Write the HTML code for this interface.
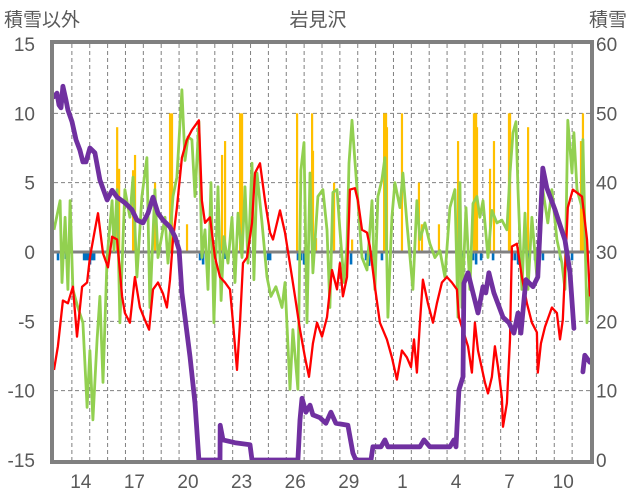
<!DOCTYPE html>
<html><head><meta charset="utf-8">
<style>
html,body{margin:0;padding:0;background:#fff;}
svg{display:block;font-family:"Liberation Sans","Noto Sans CJK JP",sans-serif;}
.cjk{font-family:"Noto Sans CJK JP","Liberation Sans",sans-serif;}
</style></head>
<body>
<svg id="chart" width="636" height="501" viewBox="0 0 636 501">
  <text class="cjk" x="4" y="26" font-size="19" fill="#595959">積雪以外</text>
  <text class="cjk" x="318" y="26" font-size="19" fill="#595959" text-anchor="middle">岩見沢</text>
  <text class="cjk" x="589" y="26" font-size="19" fill="#595959">積雪</text>
  <g id="grid"></g>
  <g id="bars"></g>
  <g id="lines"></g>
  <g id="axes"></g>
</svg>
<script>
const dayLabels = ["14","17","20","23","26","29","1","4","7","10"];
const leftTicks = [15,10,5,0,-5,-10,-15];
const rightTicks = [60,50,40,30,20,10,0];

const tempT = [0,.22,.5,.78,1.06,1.29,1.57,1.85,2.01,2.29,2.46,2.74,3.02,3.25,3.53,3.81,3.97,4.25,4.53,4.81,5.09,5.32,5.54,5.82,6.1,6.32,6.49,6.66,6.88,7.16,7.44,7.72,8.11,8.28,8.45,8.73,9.01,9.29,9.57,9.85,10.02,10.24,10.41,10.58,10.8,11.08,11.25,11.53,11.81,12.09,12.26,12.65,12.93,13.32,13.49,13.77,14.05,14.27,14.49,14.72,15,15.28,15.56,15.84,16,16.17,16.4,16.56,16.84,17.01,17.24,17.52,17.68,17.96,18.24,18.63,18.91,19.19,19.47,19.75,19.98,20.15,20.31,20.48,20.65,20.93,21.21,21.43,21.71,21.99,22.27,22.55,22.66,22.83,23.17,23.39,23.56,23.73,24.12,24.29,24.51,24.68,24.85,25.07,25.13,25.35,25.52,25.63,25.91,26.19,26.47,26.75,27.03,27.08,27.25,27.48,27.87,28.15,28.32,28.48,28.76,29.04,29.55,29.83,30];
const tempV = [-8.5,-6.8,-3.5,-3.7,-2.5,-6.1,-2.5,-2.2,-0.4,1.6,2.8,-0.1,-1.1,1.1,0.9,-3.2,-4.4,-5.1,-1.8,-4.0,-4.9,-5.6,-2.7,-2.2,-3.0,-4.0,-2.0,0.9,3.2,6.8,8.1,8.8,9.5,3.7,2.1,2.5,-0.4,-1.8,-2.2,-2.7,-5.1,-8.5,-5.1,-0.8,-0.4,2.1,5.7,6.4,3.7,1.4,0.9,3.0,1.4,-1.8,-3.2,-5.6,-7.6,-9.0,-6.6,-5.1,-6.1,-4.7,-1.3,-2.7,-0.8,-3.2,-1.8,4.5,4.6,3.7,1.6,1.4,0.4,-2.5,-5.1,-6.3,-7.6,-9.2,-7.1,-7.6,-8.3,-6.3,-8.7,-5.1,-2.0,-3.7,-5.1,-3.7,-2.2,-1.8,-2.2,-2.7,-4.7,-5.4,-6.8,-8.7,-5.1,-7.1,-9.4,-10.2,-9.0,-6.8,-8.3,-10.5,-12.6,-10.9,-6.3,0.4,0.6,-1.8,-3.7,-5.1,-5.8,-8.7,-6.6,-5.4,-4.0,-4.4,-6.3,-4.9,3.2,4.5,4.0,0.9,-3.2];

const greenT = [0,.34,.45,.62,.78,.9,1.06,1.34,1.62,1.85,2.01,2.18,2.41,2.57,2.74,2.97,3.25,3.36,3.53,3.69,3.97,4.25,4.42,4.64,4.92,5.2,5.37,5.65,5.82,6.21,6.38,6.66,6.88,7.05,7.16,7.33,7.5,7.72,7.89,8.11,8.28,8.45,8.62,8.79,8.95,9.18,9.35,9.51,9.74,9.96,10.13,10.3,10.52,10.69,10.86,11.08,11.19,11.36,11.64,11.92,12.14,12.42,12.76,12.93,13.21,13.37,13.65,13.82,13.99,14.16,14.33,14.49,14.77,15.05,15.28,15.44,15.61,15.84,16,16.23,16.4,16.51,16.68,16.84,17.01,17.24,17.52,17.8,17.96,18.13,18.35,18.52,18.69,18.91,19.08,19.36,19.53,19.75,20.09,20.31,20.48,20.76,21.04,21.32,21.6,21.88,22.16,22.44,22.61,22.72,22.83,23.06,23.28,23.45,23.67,23.84,24.01,24.29,24.51,24.79,25.07,25.35,25.52,25.69,25.86,25.97,26.19,26.36,26.53,26.75,27.03,27.2,27.36,27.64,27.87,28.15,28.43,28.6,28.76,28.99,29.1,29.27,29.55,29.6,29.83,30];
const greenV = [1.6,3.7,-2.2,2.5,-2.7,3.7,-2.7,-4.0,-5.1,-11.2,-7.1,-12.1,-6.3,-3.2,-9.4,-0.4,3.7,0.1,4.5,-5.1,4.5,2.5,5.4,-1.8,4.0,6.8,-4.0,4.5,-0.4,2.5,-0.8,4.0,5.4,9.3,11.7,6.6,8.3,8.1,4.0,9.4,-0.4,1.6,-2.7,5.0,-5.1,4.7,-3.5,1.1,-0.8,2.5,-2.2,2.8,-0.4,4.7,-0.8,6.4,-2.0,5.7,2.1,-1.8,-3.2,-2.5,-4.0,-2.2,-9.9,-5.6,-9.9,5.9,7.9,-5.1,5.7,-1.5,4.0,4.5,1.6,-4.0,4.3,4.5,1.6,-2.2,0.4,6.4,9.5,6.6,3.7,-0.4,-1.3,3.7,-2.7,4.0,5.2,6.8,-4.7,2.5,5.0,3.2,5.7,2.1,-2.7,3.7,0.9,2.1,0.6,-0.4,0.1,-1.8,3.2,4.5,-4.7,5.0,-4.0,3.2,-2.7,3.5,4.0,2.5,3.7,-0.4,3.0,2.1,2.3,1.6,5.7,8.6,9.4,4.5,-2.7,2.8,-2.7,2.5,-1.8,0.4,4.5,2.1,4.5,0.9,-0.8,-2.7,9.5,5.7,8.6,4.5,3.2,8.1,-5.1,-1.8];

const snowT = [0,.17,.28,.39,.5,.67,.78,1.01,1.23,1.45,1.62,1.79,2.01,2.29,2.57,2.97,3.25,3.53,3.97,4.36,4.64,4.98,5.26,5.54,5.82,6.1,6.49,6.77,7,7.16,7.61,7.89,8.11,9.29,9.3,9.46,10.13,10.97,11.08,13.65,13.77,13.88,14.1,14.33,14.49,14.89,15.22,15.5,15.78,16.45,16.73,16.9,17.74,17.85,18.3,18.52,18.69,20.48,20.71,21.04,22.16,22.38,22.5,22.66,22.89,22.94,23.17,23.45,23.73,24.01,24.17,24.34,24.62,25.13,25.46,25.74,25.97,26.13,26.41,26.81,27.08,27.36,27.59,28.04,28.6,28.88,29.1,29.35,29.6,29.71,29.99];
const snowV = [52.4,52.9,51.2,50.8,53.9,51.9,50.5,48.8,46.2,44.7,43.0,43.0,45.0,44.3,40.4,37.5,38.9,37.9,37.1,36.1,34.6,34.2,35.6,37.9,35.6,34.6,33.6,32.2,30.3,24.1,14.9,8.2,0,0,5.0,2.9,2.5,2.2,0,0,5.8,8.9,6.9,7.9,6.5,6.1,5.3,6.9,5.3,5.0,1.0,0,0,1.9,1.9,2.9,1.9,1.9,2.9,1.9,1.9,2.9,1.9,10.1,12.0,25.5,27.0,24.1,21.2,25.0,24.1,27.0,24.1,20.6,19.8,18.3,21.2,18.3,26.0,25.0,26.4,42.1,39.2,36.1,31.7,27.0,19.0,null,12.7,15.1,14.1];

const precipT = [3.53,3.64,4.42,4.53,5.65,6.49,6.6,7.44,9.4,9.57,10.41,10.52,13.6,14.44,14.49,14.66,15.67,16.68,18.47,18.58,18.63,19.47,20.42,20.59,21.54,22.61,23.5,23.62,23.67,24.4,24.62,25.46,25.52,26.53,29.49,29.6];
const precipV = [9,6,5.9,7,5,10,10,2,7,8,10,10,10,10,7.3,1,5,0.9,10,10,9,10,5,2,2,8,10,10,9,6,8,10,10,9,8,10];

const changeT = [.22,.67,1.68,1.79,1.9,2.01,2.13,2.24,8.17,8.34,8.62,9.57,11.98,12.09,13.65,13.82,13.99,16.62,17.46,17.63,17.8,18.35,22.89,23.45,23.62,23.9,24.57,25.63,25.8,25.97,26.58,26.92,27.36,28.32,28.65,28.99];
const changeV = [-0.6,-0.5,-0.6,-0.6,-0.6,-0.9,-0.6,-0.6,-0.6,-0.9,-0.5,-0.5,-0.6,-0.6,-0.6,-0.6,-0.9,-0.9,-0.6,-1.0,-0.6,-0.6,-0.6,-0.6,-0.9,-0.6,-0.6,-0.6,-0.6,-0.9,-0.6,-0.6,-0.6,-0.6,-0.6,-0.6];

const NS = "http://www.w3.org/2000/svg";
const X0 = 54, X1 = 590, Y0 = 44, Y1 = 460, DAYS = 30;
function xs(t){ return X0 + t*(X1-X0)/DAYS; }
function yl(v){ return Y1 - (v+15)*(Y1-Y0)/30; }
function yr(v){ return Y1 - v*(Y1-Y0)/60; }
function mk(tag, attrs, parent){
  const e = document.createElementNS(NS, tag);
  for (const k in attrs) e.setAttribute(k, attrs[k]);
  parent.appendChild(e);
  return e;
}
const grid = document.getElementById('grid');
const bars = document.getElementById('bars');
const lines = document.getElementById('lines');
const axes = document.getElementById('axes');

for (let d = 1; d < DAYS; d++) {
  const l = mk('line', {x1:xs(d), x2:xs(d), y1:Y0, y2:Y1, stroke:'#808080', 'stroke-width':1, 'stroke-dasharray':'4,3'}, grid);
  
  
}
leftTicks.forEach(v => {
  if (v === 15 || v === -15 || v === 0) return;
  const l = mk('line', {x1:X0, x2:X1, y1:yl(v), y2:yl(v), stroke:'#808080', 'stroke-width':1, 'stroke-dasharray':'4,3'}, grid);
  
  
});

precipT.forEach((t,i) => {
  const r = mk('rect', {x:xs(t)-1, y:yl(precipV[i]), width:2.2, height:yl(0)-yl(precipV[i]), fill:'#FFC000'}, bars);
  
  
});
changeT.forEach((t,i) => {
  const r = mk('rect', {x:xs(t)-1.2, y:yl(0), width:2.6, height:yl(changeV[i])-yl(0), fill:'#0070C0'}, bars);
  
  
});
const zl = mk('line', {x1:X0, x2:X1, y1:yl(0), y2:yl(0), stroke:'#808080', 'stroke-width':3}, bars);



function pathFrom(T, V, yf){
  let d = '', pen = false;
  T.forEach((t,i) => {
    if (V[i] === null) { pen = false; return; }
    d += (pen ? 'L' : 'M') + xs(t).toFixed(1) + ',' + yf(V[i]).toFixed(1);
    pen = true;
  });
  return d;
}
const gp = mk('path', {d:pathFrom(greenT, greenV, yl), fill:'none', stroke:'#92D050', 'stroke-width':2.8, 'stroke-linejoin':'round'}, lines);


const rp = mk('path', {d:pathFrom(tempT, tempV, yl), fill:'none', stroke:'#FF0000', 'stroke-width':2.3, 'stroke-linejoin':'round'}, lines);


const pp = mk('path', {d:pathFrom(snowT, snowV, yr), fill:'none', stroke:'#7030A0', 'stroke-width':4.8, 'stroke-linejoin':'round', 'stroke-linecap':'round'}, lines);



const fr = mk('rect', {x:X0-2, y:Y0-2, width:X1-X0+4, height:Y1-Y0+4, fill:'none', stroke:'#808080', 'stroke-width':4}, axes);



leftTicks.forEach(v => {
  const tx = mk('text', {x:35, y:yl(v)+7, 'font-size':19, fill:'#595959', 'text-anchor':'end'}, axes);
  tx.textContent = String(v);
  
  
});
rightTicks.forEach(v => {
  const tx = mk('text', {x:596, y:yr(v)+7, 'font-size':19, fill:'#595959'}, axes);
  tx.textContent = String(v);
  
  
});
dayLabels.forEach((s,i) => {
  const t = 1.5 + i*3;
  const tx = mk('text', {x:xs(t), y:488, 'font-size':19, fill:'#595959', 'text-anchor':'middle'}, axes);
  tx.textContent = s;
  
  
});
</script>
</body></html>
